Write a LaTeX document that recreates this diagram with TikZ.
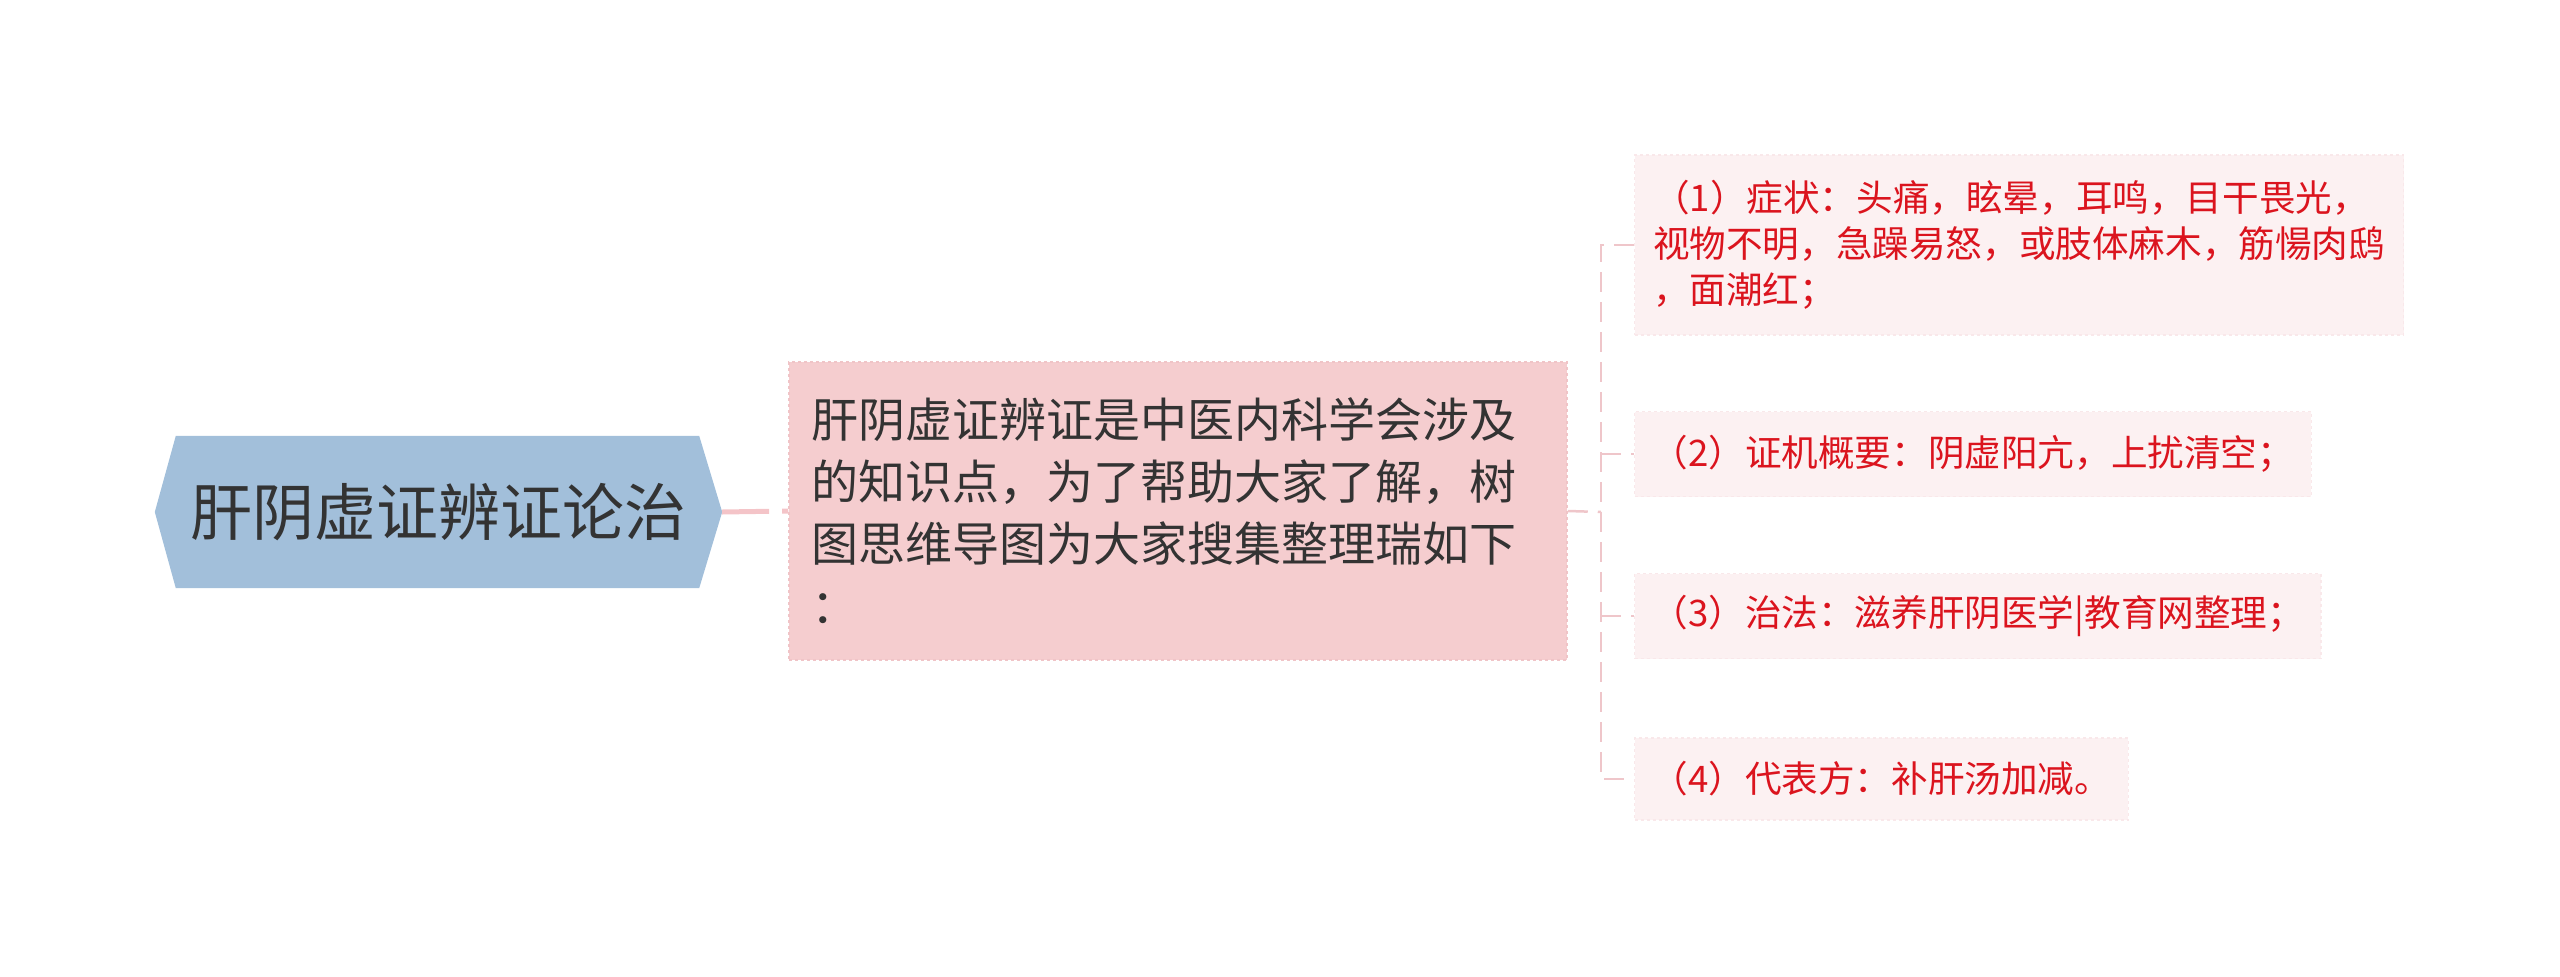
\documentclass[tikz,border=0pt]{standalone}
\usepackage{fontspec}
\setmainfont{Noto Sans CJK SC}
\pgfdeclarelayer{background}
\pgfsetlayers{background,main}
\definecolor{rootfill}{HTML}{A2BFDA}
\definecolor{darktext}{HTML}{333333}
\definecolor{midfill}{HTML}{F5CDCF}
\definecolor{midborder}{HTML}{F0C4C7}
\definecolor{leaffill}{HTML}{FCF1F2}
\definecolor{leafborder}{HTML}{F9E8EA}
\definecolor{leaftext}{HTML}{DB141E}
\definecolor{linkcol}{HTML}{F4C4C8}
\definecolor{branchcol}{HTML}{EFC6CA}
\tikzset{
  rootnode/.style={minimum width=567pt, minimum height=152pt, inner sep=0pt, text=darktext, font=\fontsize{62}{74}\selectfont},
  midnode/.style={draw=midborder, dashed, line width=1.5pt, fill=midfill, text=darktext, font=\fontsize{47}{62}\selectfont, minimum width=778pt, minimum height=298pt, inner xsep=22pt, text width=734pt, align=left},
  leafnode/.style={draw=leafborder, dashed, line width=1.2pt, fill=leaffill, text=leaftext, font=\fontsize{36.6}{46}\selectfont, inner xsep=17pt, minimum height=85pt, align=left, anchor=west},
  rootlink/.style={draw=linkcol, line width=5pt, dash pattern=on 47pt off 13pt},
  branchlink/.style={draw=branchcol, line width=2.5pt, dash pattern=on 20pt off 10pt}
}
\begin{document}
\begin{tikzpicture}[x=1pt,y=-1pt]
\useasboundingbox (0,0) rectangle (2560,977);
\node[rootnode] (root) at (438.5,512) {肝阴虚证辨证论治};
\begin{pgfonlayer}{background}
\fill[rootfill] (root.west) -- ([xshift=21pt]root.north west) -- ([xshift=-23pt]root.north east) -- (root.east) -- ([xshift=-23pt]root.south east) -- ([xshift=21pt]root.south west) -- cycle;
\end{pgfonlayer}
\node[midnode] (mid) at (1178,511) {肝阴虚证辨证是中医内科学会涉及\\的知识点，为了帮助大家了解，树\\图思维导图为大家搜集整理瑞如下\\：};
\node[leafnode, minimum height=180pt, minimum width=769pt] (b1) at (1634,245) {（1）症状：头痛，眩晕，耳鸣，目干畏光，\\视物不明，急躁易怒，或肢体麻木，筋愓肉鸱\\，面潮红；};
\node[leafnode] (b2) at (1634,454) {（2）证机概要：阴虚阳亢，上扰清空；};
\node[leafnode] (b3) at (1634,616) {（3）治法：滋养肝阴医学|教育网整理；};
\node[leafnode, minimum height=82pt] (b4) at (1634,779) {（4）代表方：补肝汤加减。};
\coordinate (bus) at (1601,512);
\begin{pgfonlayer}{background}
\draw[rootlink] (root.east) -- (mid.west);
\draw[branchlink] (mid.east) -- (bus);
\draw[branchlink] (b1.west) -| (bus) |- (b4.west);
\draw[branchlink] (bus |- b2.west) -- (b2.west);
\draw[branchlink] (bus |- b3.west) -- (b3.west);
\end{pgfonlayer}
\end{tikzpicture}
\end{document}
